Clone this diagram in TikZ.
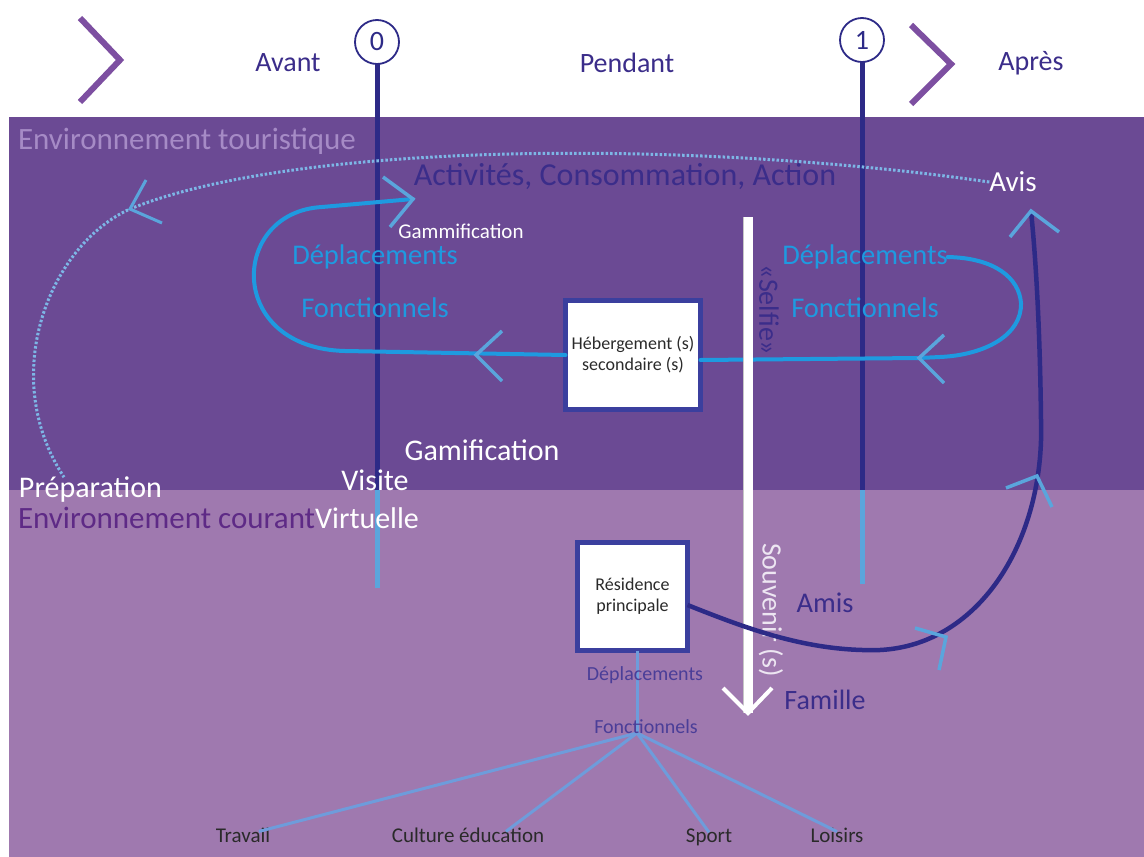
\documentclass[tikz,border=0pt]{standalone}
\usepackage{fontspec}
\setmainfont{Carlito}
\usetikzlibrary{calc}
\definecolor{topbg}{HTML}{6B4A94}
\definecolor{botbg}{HTML}{9F79AF}
\definecolor{navy}{HTML}{2D2A87}
\definecolor{loopblue}{HTML}{1E9AE0}
\definecolor{headblue}{HTML}{5AA5DC}
\definecolor{dotblue}{HTML}{7DB6E6}
\definecolor{chevcol}{HTML}{7D4FA1}
\definecolor{hdrtext}{HTML}{3B2D8A}
\definecolor{envtour}{HTML}{A68BC6}
\definecolor{envcour}{HTML}{5E2A86}
\definecolor{boxborder}{HTML}{3B3F9E}
\definecolor{thinblue}{HTML}{6E9CDB}
\definecolor{souvcol}{HTML}{EDE6F2}
\definecolor{darktext}{HTML}{2A2A2A}
\definecolor{smallpurple}{HTML}{4B3E98}
\begin{document}
\begin{tikzpicture}[x=1pt,y=-1pt,
  every node/.style={inner sep=0pt,outer sep=0pt},
  fs/.style={font=\fontsize{#1}{#1}\selectfont},
  hdr/.style={fs=28,text=hdrtext},
  chev/.style={draw=chevcol,line width=6pt,miter limit=10},
  circ/.style={circle,draw=navy,line width=1.8pt,fill=white,minimum size=44pt,fs=28,text=navy},
  navyline/.style={draw=navy,line width=5pt},
  tlblue/.style={draw=headblue,line width=5pt},
  loopline/.style={draw=loopblue,line width=4pt,line cap=round},
  ahead/.style={draw=headblue,line width=3.5pt},
  dotline/.style={draw=dotblue,line width=3pt,dash pattern=on 2.5pt off 2pt},
  bigblue/.style={fs=28.5,text=loopblue},
  whitetxt/.style={fs=30,text=white},
  boxnode/.style={draw=boxborder,line width=5pt,fill=white,align=center,fs=18,text=darktext},
  thin/.style={draw=thinblue,line width=3pt},
  smalllbl/.style={fs=20,text=smallpurple},
  botlbl/.style={fs=21,text=darktext,anchor=base}
]
\useasboundingbox (0,0) rectangle (1144,857);
\fill[white] (0,0) rectangle (1144,857);
\fill[topbg] (9,117) rectangle (1144,490);
\fill[botbg] (9,490) rectangle (1144,857);

% header
\draw[chev] (80,18) -- (120,60) -- (80,102);
\draw[chev] (911,25) -- (951,64) -- (911,104);
\node[hdr] (avant) at (288,63) {Avant};
\node[hdr] (pendant) at (627,63) {Pendant};
\node[hdr] (apres) at (1031,63) {Après};
\node[circ] (c0) at (377,42) {0};
\node[circ] (c1) at (862,40) {1};

% time lines
\coordinate (t0m) at (377,490);
\coordinate (t0e) at (377,588);
\coordinate (t1m) at (862,490);
\coordinate (t1e) at (862,584);
\draw[navyline] (c0.south) -- (t0m);
\draw[tlblue] (t0m) -- (t0e);
\draw[navyline] (c1.south) -- (t1m);
\draw[tlblue] (t1m) -- (t1e);

% zone labels
\node[fs=31,text=envtour,anchor=west] (envt) at (18,141) {Environnement touristique};
\node[fs=31,text=envcour,anchor=west] (envc) at (18,518) {Environnement courant};

% boxes
\node[boxnode,minimum width=135pt,minimum height=109pt] (heb) at (633,355) {Hébergement (s)\\[3pt]secondaire (s)};
\node[boxnode,minimum width=110pt,minimum height=108pt] (res) at (632.5,596.5) {Résidence\\[3pt]principale};

% labels
\node[fs=32,text=hdrtext] (act) at (625,176) {Activités, Consommation, Action};
\node[fs=29,text=white] (avis) at (1013,182) {Avis};
\node[fs=21,text=white] (gamm) at (461,231) {Gammification};
\node[bigblue] (depL) at (375,257) {Déplacements};
\node[bigblue] (fonL) at (375,308) {Fonctionnels};
\node[bigblue] (depR) at (865,257) {Déplacements};
\node[bigblue] (fonR) at (865,308) {Fonctionnels};
\node[whitetxt] (gami) at (482,450) {Gamification};
\node[whitetxt] (visite) at (375,480) {Visite};
\node[whitetxt,anchor=west] (virt) at (envc.east) {Virtuelle};
\node[whitetxt,anchor=west] (prep) at (19,490) {Préparation};

% dotted: Avis -> Préparation
\coordinate (dtip) at (130,209);
\draw[dotline] (avis.west) .. controls (700,140) and (300,140) .. (dtip)
  .. controls (50,245) and (-3,375) .. (prep.north west -| 64,0);
\draw[ahead,line width=3pt] (146,180) -- (dtip) -- (162,223);

% white bar (Selfie / Souvenir)
\coordinate (barT) at (748,217);
\coordinate (barB) at (748,713);

% left loop
\coordinate (ltip) at (413,199);
\draw[loopline] (heb.west) -- (345,351) .. controls (225,348) and (230,212) .. (322,207) -- (ltip);
\draw[ahead] (383,177) -- (ltip) -- (390,227);
\draw[ahead] (502,331) -- (476,355) -- (502,381);

% right loop
\coordinate (rtip) at (919,358);
\draw[loopline] (heb.east |- 0,360) -- (rtip) -- (940,357) .. controls (985,355) and (1022,335) .. (1021,303)
  .. controls (1019,278) and (995,258) .. (depR.east);
\draw[ahead] (944,335) -- (rtip) -- (944,383);

% white bar on top
\draw[draw=gray!45,double=white,double distance=9pt,line width=0.6pt] (barT) -- (barB);
\draw[draw=white,line width=4pt] (723,688) -- (barB) -- (772,688);
\node[fs=28,text=hdrtext,rotate=-90] (selfie) at (769,310) {«Selfie»};
\node[fs=28,text=souvcol,rotate=-90] (souv) at (771,610) {Souvenir (s)};

% navy curve residence -> Avis
\coordinate (avtip) at (1031,211);
\draw[navyline,line width=4.5pt] (res.east |- 0,605) .. controls (750,630) and (810,652) .. (880,650)
  .. controls (980,645) and (1045,540) .. (1041,420)
  .. controls (1040,330) and (1036,260) .. (avtip);
\draw[ahead] (1010,237) -- (avtip) -- (1059,232);
\draw[ahead] (1006,488) -- (1037,476) -- (1052,507);
\draw[ahead] (915,628) -- (946,637) -- (939,670);

\node[fs=28.5,text=hdrtext] (amis) at (825,603) {Amis};
\node[fs=28,text=hdrtext] (famille) at (825,700) {Famille};

% bottom tree
\coordinate (hub) at (637,733);
\node[botlbl] (trav) at (243,842) {Travail};
\node[botlbl] (cult) at (468,842) {Culture éducation};
\node[botlbl] (sport) at (709,842) {Sport};
\node[botlbl] (lois) at (837,842) {Loisirs};
\draw[thin] (res.south -| hub) -- (hub);
\draw[thin] (hub) -- ([xshift=16pt,yshift=-4pt]trav.north);
\draw[thin] (hub) -- ([xshift=38pt,yshift=-4pt]cult.north);
\draw[thin] (hub) -- ([yshift=-4pt]sport.north);
\draw[thin] (hub) -- ([yshift=-4pt]lois.north);
\node[smalllbl] (depB) at (645,675) {Déplacements};
\node[smalllbl] (fonB) at (646,727) {Fonctionnels};
\end{tikzpicture}
\end{document}
